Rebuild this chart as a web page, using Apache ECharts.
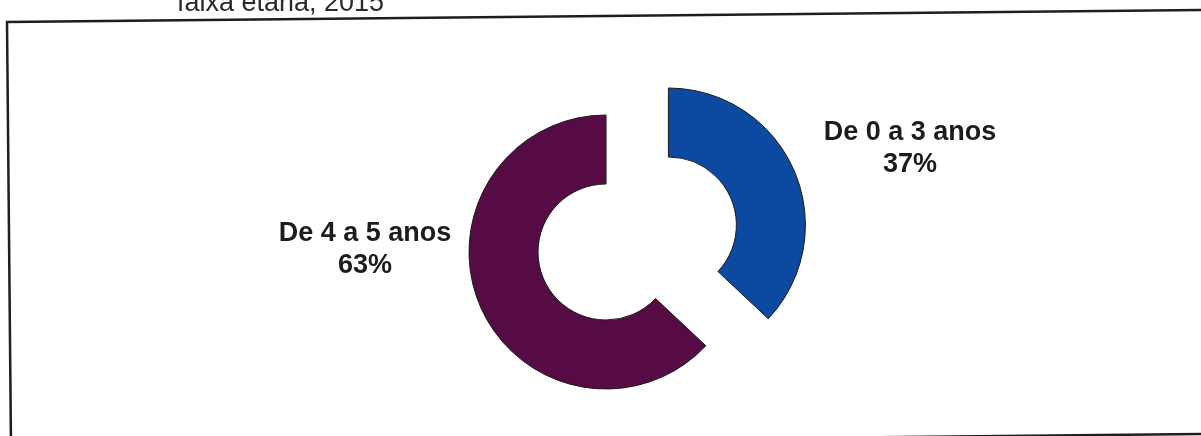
<!DOCTYPE html>
<html>
<head>
<meta charset="utf-8">
<script src="https://cdn.jsdelivr.net/npm/echarts@6/dist/echarts.min.js"></script>
<style>
html,body{margin:0;padding:0;background:#fff;}
#chart{width:1201px;height:436px;}
</style>
</head>
<body>
<div id="chart"></div>
<script>
var categories = ['De 0 a 3 anos', 'De 4 a 5 anos'];
var values = [37, 63];
var colors = ['#0b4aa0', '#560b45'];
var titleText = 'faixa etária, 2015';

var labelPos = [[910, 149], [365, 250]];

var total = values.reduce(function (a, b) { return a + b; }, 0);
var labelGraphics = categories.map(function (c, i) {
  return {
    type: 'text', x: labelPos[i][0], y: labelPos[i][1], z: 10,
    style: {
      text: c + '\n' + Math.round(values[i] / total * 100) + '%',
      fontFamily: 'Liberation Sans, Arial', fontWeight: 'bold', fontSize: 27, lineHeight: 32,
      fill: '#1c1c1c', align: 'center', verticalAlign: 'middle'
    }
  };
});

var chart = echarts.init(document.getElementById('chart'), null, {renderer: 'canvas'});
chart.setOption({
  animation: false,
  backgroundColor: '#ffffff',
  graphic: [
    {
      type: 'text', x: 177, y: 17,
      style: {text: titleText, fontFamily: 'Liberation Sans, Arial', fontSize: 27,
              fill: '#2a2a2a', verticalAlign: 'bottom', align: 'left'}
    },
    {
      type: 'polyline',
      shape: {points: [[11, 446], [7, 22], [1201, 10]]},
      style: {stroke: '#1e1e1e', lineWidth: 2.5, fill: null}
    },
    {
      type: 'polyline',
      shape: {points: [[11, 446], [1201, 434]]},
      style: {stroke: '#1e1e1e', lineWidth: 2.5, fill: null}
    }
  ].concat(labelGraphics),
  series: [{
    type: 'pie',
    center: [606, 252],
    radius: [68, 137],
    startAngle: 90,
    clockwise: true,
    selectedMode: 'single',
    selectedOffset: 68,
    emphasis: {disabled: true},
    itemStyle: {borderColor: '#1a1a1a', borderWidth: 1},
    label: {show: false},
    labelLine: {show: false},
    data: categories.map(function (c, i) {
      return {name: c, value: values[i], selected: i === 0, itemStyle: {color: colors[i]}};
    })
  }]
});
</script>
</body>
</html>
